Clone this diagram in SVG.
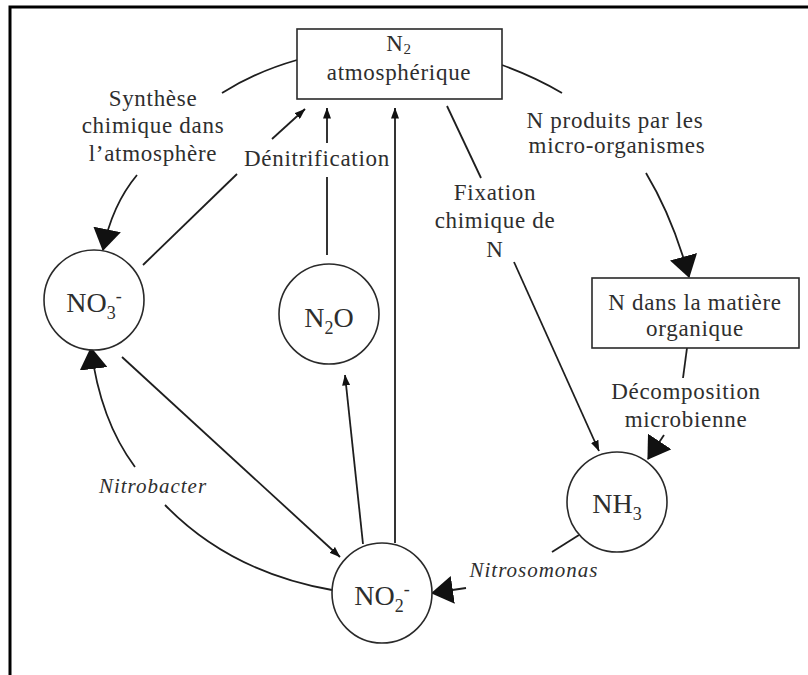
<svg xmlns="http://www.w3.org/2000/svg" width="808" height="675" viewBox="0 0 808 675">
<defs>
<style>
.t{font-family:"Liberation Serif","Times New Roman",serif;fill:#2e2e2e;text-anchor:middle}
.lab{font-size:23px;letter-spacing:0.7px}
.it{font-size:21px;font-style:italic;letter-spacing:1px}
.big{font-size:28px}
.ln{fill:none;stroke:#1e1e1e;stroke-width:1.8}
.nd{fill:#fff;stroke:#2a2a2a;stroke-width:1.6}
.fr{fill:none;stroke:#000;stroke-width:3}
</style>
<marker id="ab" markerUnits="userSpaceOnUse" markerWidth="22" markerHeight="28" viewBox="0 0 22 28" refX="21" refY="14" orient="auto"><path d="M0,0 L22,14 L0,28 Z" fill="#111"/></marker>
<marker id="as" markerUnits="userSpaceOnUse" markerWidth="11" markerHeight="8" viewBox="0 0 11 8" refX="10.5" refY="4" orient="auto"><path d="M0,0 L11,4 L0,8 Z" fill="#111"/></marker>
</defs>
<rect width="808" height="675" fill="#fff"/>
<path class="fr" d="M10,675 L10,7 L808,7"/>

<g id="connectors">
<path class="ln" d="M297,60 Q255,72 222,93"/>
<path class="ln" d="M137,175 Q112,205 103,250" marker-end="url(#ab)"/>
<path class="ln" d="M502,65 Q535,77 562,93"/>
<path class="ln" d="M646,173 Q673,218 689,277" marker-end="url(#ab)"/>
<path class="ln" d="M687,348 L683,378"/>
<path class="ln" d="M664,435 L648,459" marker-end="url(#ab)"/>
<path class="ln" d="M579,535 L552,552"/>
<path class="ln" d="M466,588 L432,593" marker-end="url(#ab)"/>
<path class="ln" d="M332,590 Q230,572 165,505"/>
<path class="ln" d="M135,467 Q100,420 91,348" marker-end="url(#ab)"/>
<path class="ln" d="M143,265 L237,174"/>
<path class="ln" d="M272,139 L305,109" marker-end="url(#as)"/>
<path class="ln" d="M327,255 L327,177"/>
<path class="ln" d="M327,143 L327,108" marker-end="url(#as)"/>
<path class="ln" d="M395,543 L395,108" marker-end="url(#as)"/>
<path class="ln" d="M363,544 L345,375" marker-end="url(#as)"/>
<path class="ln" d="M122,357 L340,557" marker-end="url(#as)"/>
<path class="ln" d="M447,106 L481,178"/>
<path class="ln" d="M514,262 L599,451" marker-end="url(#as)"/>
</g>

<g id="n2">
<rect class="nd" x="297" y="29" width="205" height="70"/>
<text class="t lab" x="399" y="51">N<tspan font-size="15" dy="3">2</tspan></text>
<text class="t lab" x="399" y="80">atmosphérique</text>
</g>
<g id="norg">
<rect class="nd" x="592" y="278" width="207" height="70"/>
<text class="t lab" x="695" y="310">N dans la matière</text>
<text class="t lab" x="695" y="336">organique</text>
</g>
<g id="no3">
<circle class="nd" cx="94" cy="300" r="50"/>
<text class="t big" x="94" y="312">NO<tspan font-size="18" dy="7">3</tspan><tspan font-size="18" dy="-17">-</tspan></text>
</g>
<g id="n2o">
<circle class="nd" cx="329" cy="314" r="50"/>
<text class="t big" x="329" y="327">N<tspan font-size="18" dy="7">2</tspan><tspan dy="-7">O</tspan></text>
</g>
<g id="no2">
<circle class="nd" cx="382" cy="593" r="50"/>
<text class="t big" x="382" y="605">NO<tspan font-size="18" dy="7">2</tspan><tspan font-size="18" dy="-17">-</tspan></text>
</g>
<g id="nh3">
<circle class="nd" cx="617" cy="502" r="50"/>
<text class="t big" x="617" y="513">NH<tspan font-size="18" dy="7">3</tspan></text>
</g>

<g id="labels">
<text class="t lab" x="153" y="106">Synthèse</text>
<text class="t lab" x="153" y="133">chimique dans</text>
<text class="t lab" x="153" y="161">l’atmosphère</text>
<text class="t lab" x="317" y="166">Dénitrification</text>
<text class="t lab" x="615" y="128">N produits par les</text>
<text class="t lab" x="617" y="153">micro-organismes</text>
<text class="t lab" x="495" y="200">Fixation</text>
<text class="t lab" x="495" y="228">chimique de</text>
<text class="t lab" x="495" y="257">N</text>
<text class="t lab" x="686" y="399">Décomposition</text>
<text class="t lab" x="686" y="427">microbienne</text>
<text class="t it" x="153" y="493">Nitrobacter</text>
<text class="t it" x="534" y="577">Nitrosomonas</text>
</g>
</svg>
